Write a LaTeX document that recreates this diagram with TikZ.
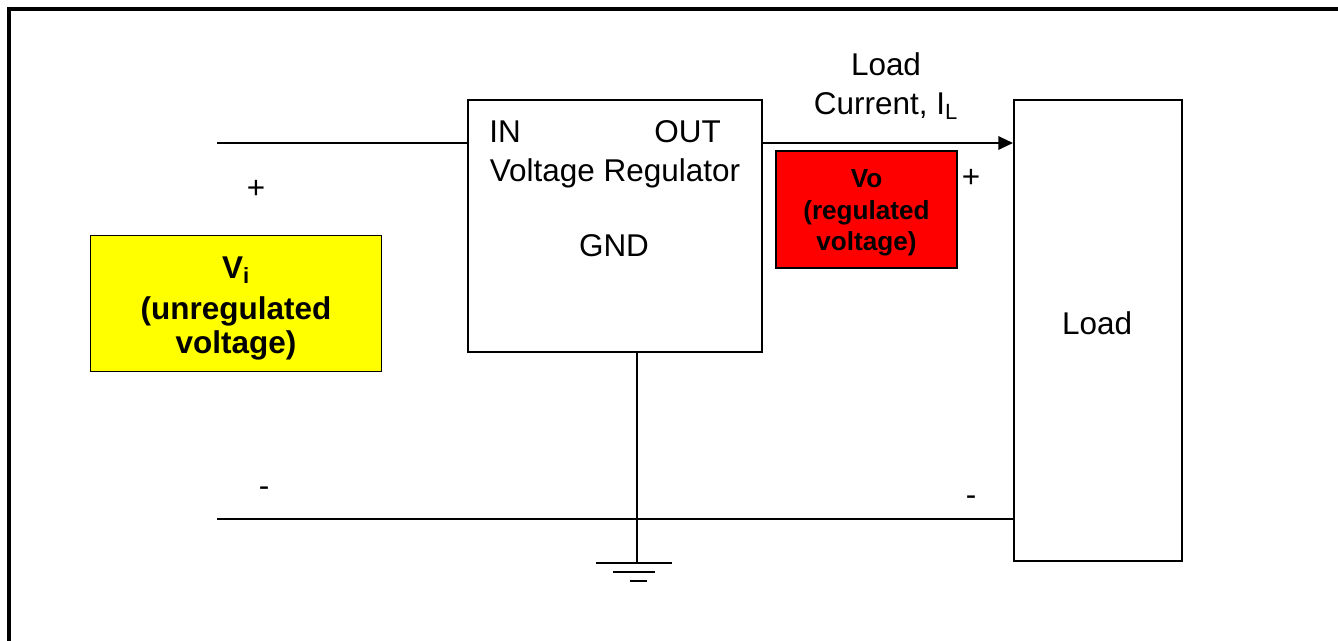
\documentclass[tikz,border=0pt]{standalone}
\usepackage{fontspec}
\setmainfont{Liberation Sans}
\usepackage{xcolor}
\usepackage{tikz}
\usetikzlibrary{positioning,calc,arrows.meta}
\definecolor{vinyellow}{RGB}{255,255,0}
\definecolor{voutred}{RGB}{255,0,0}

\begin{document}
\begin{tikzpicture}[x=0.75pt, y=-0.75pt, >={Triangle[length=11pt,width=10pt]}, every node/.style={inner sep=0pt, font=\fontsize{23.6}{28}\selectfont}, blk/.style={draw, line width=1.5pt, fill=white}, wire/.style={line width=1.6pt}, lbl/.style={anchor=base}]

\useasboundingbox (0,0) rectangle (1338,641);
\draw[line width=3pt] (9,660) -- (9,9) -- (1360,9);

\node[blk, minimum width=220.5pt, minimum height=189pt] (reg) at (615,226) {};
\node[blk, minimum width=126pt, minimum height=345.75pt] (load) at (1098,330.5) {};
\node[draw, line width=1.2pt, fill=vinyellow, minimum width=218.25pt, minimum height=102pt] (vin) at (236,303.5) {};
\node[draw, line width=1.2pt, fill=voutred, minimum width=135.75pt, minimum height=87.75pt] (vout) at (866.5,209.5) {};
\node[align=center, font=\bfseries\fontsize{23.6}{25}\selectfont] (vintxt) at ($(vin.center)+(0,5)$) {V\textsubscript{i}\\[6pt](unregulated\\voltage)};
\node[align=center, font=\bfseries\fontsize{19.6}{23.8}\selectfont] (vouttxt) at ($(vout.center)+(0,3.5)$) {Vo\\(regulated\\voltage)};

\node[lbl, anchor=base west] (in) at (489,142.5) {IN};
\node[lbl, anchor=base east] (out) at (721,142.5) {OUT};
\node[lbl] (vreg) at (615,182) {Voltage Regulator};
\node[lbl] (gndtxt) at (614,257) {GND};
\node[lbl] (loadtxt) at (1097,335) {Load};
\node[lbl] (il1) at (886,76) {Load};
\node[lbl] (il2) at (886,115) {Current, I\textsubscript{L}};

\node (p1) at (256,189) {+};
\node (m1) at (264,492) {-};
\node (p2) at (971,178) {+};
\node (m2) at (971,501) {-};

\coordinate (inL) at (217,143);
\coordinate (botL) at (217,519);
\coordinate (gnd) at (637,563);

\draw[wire] (inL) -- (inL -| reg.west);
\draw[wire, ->] (inL -| reg.east) -- (inL -| load.west);
\draw[wire] (botL) -- (botL -| load.west);
\draw[wire] (gnd |- reg.south) -- (gnd);
% ground symbol
\draw[wire] ($(gnd)+(-41,0)$) -- ($(gnd)+(35,0)$);
\draw[wire] ($(gnd)+(-24,9)$) -- ($(gnd)+(18,9)$);
\draw[wire] ($(gnd)+(-7,18)$) -- ($(gnd)+(10,18)$);
\end{tikzpicture}
\end{document}
